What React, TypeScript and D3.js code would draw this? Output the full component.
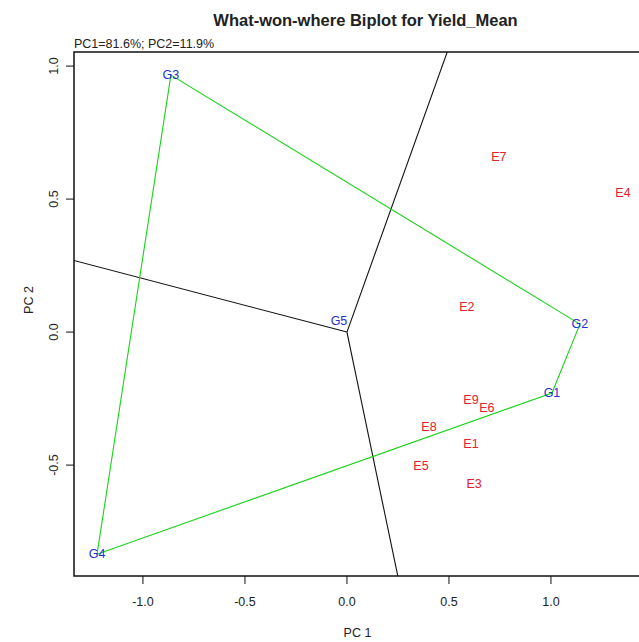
import React from "react";
import * as d3 from "d3";

// genotype scores (PC1, PC2)
const genotypes = ["G1", "G2", "G3", "G4", "G5"];
const genoPC1 = [1.005, 1.142, -0.863, -1.225, -0.039];
const genoPC2 = [-0.229, 0.03, 0.966, -0.835, 0.041];

// environment scores
const environments = ["E1", "E2", "E3", "E4", "E5", "E6", "E7", "E8", "E9"];
const envPC1 = [0.608, 0.588, 0.623, 1.353, 0.363, 0.686, 0.745, 0.402, 0.608];
const envPC2 = [-0.421, 0.094, -0.571, 0.523, -0.504, -0.286, 0.658, -0.357, -0.256];

const xTicks = [-1.0, -0.5, 0.0, 0.5, 1.0];
const yTicks = [-0.5, 0.0, 0.5, 1.0];

const title = "What-won-where Biplot for Yield_Mean";
const subtitle = "PC1=81.6%; PC2=11.9%";

const W = 639;
const H = 642;
const left = 74;
const right = 645;
const top = 52;
const bottom = 576;
const font = "'Liberation Sans', Arial, sans-serif";

export default function App() {
  const x = d3.scaleLinear().domain([-1.338, 1.461]).range([left, right]);
  const y = d3.scaleLinear().domain([-0.917, 1.053]).range([bottom, top]);

  const genoPts = genotypes.map((g, i) => ({ name: g, pc1: genoPC1[i], pc2: genoPC2[i] }));
  const envPts = environments.map((e, i) => ({ name: e, pc1: envPC1[i], pc2: envPC2[i] }));

  // convex hull of the genotypes (polygon of vertex genotypes)
  const hull = d3.polygonHull(genoPts.map((p) => [p.pc1, p.pc2] as [number, number]))!;

  // rays from the origin perpendicular to each hull edge
  const rays: [number, number][] = [];
  for (let i = 0; i < hull.length; i++) {
    const a = hull[i];
    const b = hull[(i + 1) % hull.length];
    const dx = b[0] - a[0];
    const dy = b[1] - a[1];
    const t = -(a[0] * dx + a[1] * dy) / (dx * dx + dy * dy);
    if (t < 0 || t > 1) continue; // foot outside the edge, no sector line
    const fx = a[0] + t * dx;
    const fy = a[1] + t * dy;
    const len = Math.hypot(fx, fy);
    rays.push([(fx / len) * 10, (fy / len) * 10]);
  }

  const hullPath = d3.line<[number, number]>()
    .x((d) => x(d[0]))
    .y((d) => y(d[1]))
    .curve(d3.curveLinearClosed)(hull);

  return (
    <svg
      width={W}
      height={H}
      style={{ position: "absolute", left: 0, top: 0, background: "#fff" }}
      fontFamily={font}
    >
      <defs>
        <clipPath id="plotClip">
          <rect x={left} y={top} width={right - left} height={bottom - top} />
        </clipPath>
      </defs>

      <text x={(left + right) / 2 + 6} y={26} textAnchor="middle" fontWeight="bold" fontSize={16.5} fill="#222">
        {title}
      </text>
      <text x={left} y={48} fontSize={12.5} fill="#222">
        {subtitle}
      </text>

      <g clipPath="url(#plotClip)">
        {rays.map((r, i) => (
          <line key={i} x1={x(0)} y1={y(0)} x2={x(r[0])} y2={y(r[1])} stroke="#111" strokeWidth={1.1} />
        ))}
        <path d={hullPath ?? ""} fill="none" stroke="#19d219" strokeWidth={1.1} />
        {envPts.map((p) => (
          <text key={p.name} x={x(p.pc1)} y={y(p.pc2)} textAnchor="middle" dominantBaseline="central" fontSize={12.5} fill="#e8202a">
            {p.name}
          </text>
        ))}
        {genoPts.map((p) => (
          <text key={p.name} x={x(p.pc1)} y={y(p.pc2)} textAnchor="middle" dominantBaseline="central" fontSize={12.5} fill="#2430cc">
            {p.name}
          </text>
        ))}
      </g>

      <rect x={left} y={top} width={right - left} height={bottom - top} fill="none" stroke="#111" strokeWidth={1.5} />

      {/* x axis */}
      {xTicks.map((t) => (
        <g key={"x" + t} transform={`translate(${x(t)},${bottom})`}>
          <line y1={0} y2={8} stroke="#111" />
          <text y={30} textAnchor="middle" fontSize={12.5} fill="#222">
            {d3.format(".1f")(t).replace("−", "-")}
          </text>
        </g>
      ))}
      <text x={(left + right) / 2 - 2} y={637} textAnchor="middle" fontSize={12.5} fill="#222">
        PC 1
      </text>

      {/* y axis */}
      {yTicks.map((t) => (
        <g key={"y" + t} transform={`translate(${left},${y(t)})`}>
          <line x1={0} x2={-8} stroke="#111" />
          <text transform="translate(-16,0) rotate(-90)" textAnchor="middle" fontSize={12.5} fill="#222">
            {d3.format(".1f")(t).replace("−", "-")}
          </text>
        </g>
      ))}
      <text transform="translate(33,300) rotate(-90)" textAnchor="middle" fontSize={12.5} fill="#222">
        PC 2
      </text>
    </svg>
  );
}
